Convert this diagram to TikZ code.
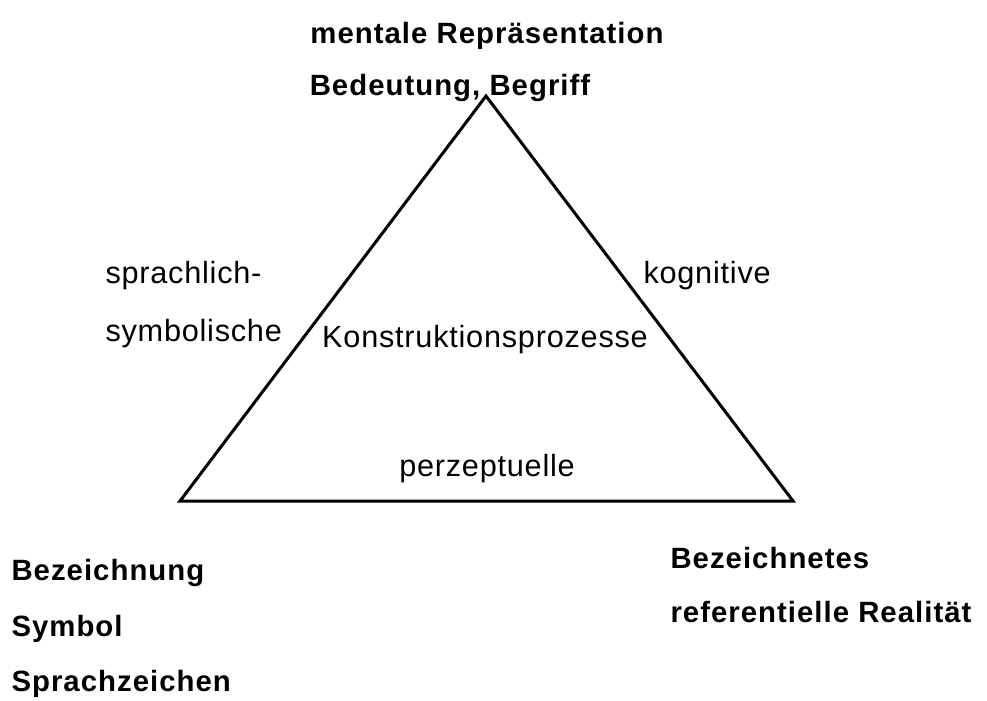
\documentclass[tikz,border=0pt]{standalone}
\usepackage{fontspec}
\setmainfont{Liberation Sans}

\tikzset{every picture/.style={line width=0.75pt}}
\tikzset{
  lbl/.style={inner sep=0pt, font=\fontsize{23}{27}\selectfont\addfontfeature{LetterSpace=2.5}},
  lblbold/.style={inner sep=0pt, font=\fontsize{22}{26}\selectfont\bfseries\addfontfeature{LetterSpace=3.5}},
}

\begin{document}
\begin{tikzpicture}[x=0.75pt,y=0.75pt,yscale=-1,xscale=1]
\path (0,0) rectangle (987,700); %set diagram size 987 x 700

%Triangle corners
\coordinate (apex) at (486,96);
\coordinate (left) at (180,501);
\coordinate (right) at (793,501);
%Shape: Triangle
\draw [line width=2.25pt, line join=miter] (apex) -- (left) -- (right) -- cycle ;

% Text Node
\node (mental) [lblbold, anchor=base] at (487,43) {mentale Repräsentation};
% Text Node
\node (bedeutung) [lblbold, anchor=base] at (450,95) {Bedeutung, Begriff};
% Text Node
\node (sprachlich) [lbl, anchor=base west] at (105,283) {sprachlich-};
% Text Node
\node (symbolische) [lbl, anchor=base west] at (105,341) {symbolische};
% Text Node
\node (kognitiv) [lbl, anchor=base west] at (643,283) {kognitive};
% Text Node
\node (konstr) [lbl, anchor=base] at (485,347) {Konstruktionsprozesse};
% Text Node
\node (perzept) [lbl, anchor=base] at (487,476) {perzeptuelle};
% Text Node
\node (bezeichnung) [lblbold, anchor=base west] at (11,580) {Bezeichnung};
% Text Node
\node (symbol) [lblbold, anchor=base west] at (11,636) {Symbol};
% Text Node
\node (sprachz) [lblbold, anchor=base west] at (11,691) {Sprachzeichen};
% Text Node
\node (bezeichnetes) [lblbold, anchor=base west] at (670,568) {Bezeichnetes};
% Text Node
\node (realitaet) [lblbold, anchor=base west] at (670,622) {referentielle Realität};

\end{tikzpicture}
\end{document}
